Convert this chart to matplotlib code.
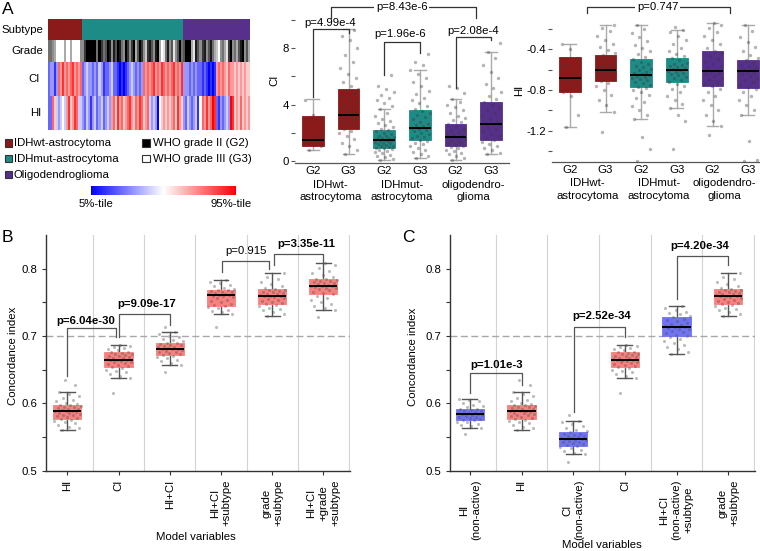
import numpy as np
import matplotlib
matplotlib.use('Agg')
import matplotlib.pyplot as plt
from matplotlib.colors import LinearSegmentedColormap, ListedColormap
from matplotlib.patches import Rectangle
import matplotlib.colorbar as mcolorbar

plt.rcParams['font.family'] = ['Liberation Sans', 'DejaVu Sans']
plt.rcParams['axes.unicode_minus'] = False
FS = 8.2

# ---------------- DATA ----------------
# Heatmap (panel A): per-column levels
subtype_names = ['IDHwt-astrocytoma', 'IDHmut-astrocytoma', 'Oligodendroglioma']
subtype_colors = ['#8B1A1A', '#1E8C86', '#56308A']
grade_wt = [4, 4, 5, 6, 9, 9, 9, 9, 6, 9, 9, 6, 9, 9, 9, 9, 5]
grade_mut = [5, 2, 0, 0, 0, 0, 0, 4, 0, 2, 4, 3, 0, 1, 5, 1, 3, 0, 1, 4, 5, 0, 2, 5, 2, 0, 6, 3, 0, 2, 5, 7, 2,
             1, 3, 5, 1, 0, 6, 9, 8, 4, 1, 5, 3, 8, 5, 3, 0, 4]
grade_oli = [3, 0, 0, 0, 6, 8, 1, 3, 5, 2, 1, 5, 3, 1, 4, 6, 7, 9, 5, 4, 6, 8, 2, 0, 5, 4, 6, 3, 1, 0, 5, 3, 6]
ci_wt = [2, 3, 3, 1, 3, 8, 7, 9, 7, 8, 7, 8, 9, 7, 8, 7, 8]
ci_mut = [2, 3, 4, 3, 3, 2, 3, 2, 4, 3, 1, 2, 2, 3, 4, 2, 2, 1, 0, 1, 0, 1, 2, 3, 4, 3, 2, 3, 2, 3, 8, 7, 8,
          7, 8, 9, 7, 8, 7, 9, 8, 7, 8, 7, 8, 9, 7, 8, 7, 9]
ci_oli = [3, 3, 3, 2, 3, 2, 3, 2, 2, 1, 2, 1, 0, 1, 0, 1, 7, 8, 7, 8, 7, 6, 8, 7, 7, 6, 7, 6, 7, 6, 7, 6, 6]
hi_wt = [2, 2, 8, 6, 4, 3, 4, 5, 4, 7, 9, 6, 7, 9, 8, 4, 4]
hi_mut = [3, 2, 4, 3, 1, 3, 4, 2, 3, 4, 2, 3, 4, 3, 7, 8, 6, 9, 7, 8, 6, 7, 8, 9, 7, 6, 8, 7, 9, 8, 6, 7, 8,
          4, 3, 4, 3, 0, 5, 6, 7, 6, 7, 6, 7, 8, 6, 9, 7, 6]
hi_oli = [3, 2, 4, 3, 2, 3, 4, 1, 5, 8, 7, 9, 7, 8, 10, 9, 2, 1, 3, 2, 3, 4, 3, 10, 9, 6, 7, 6, 8, 6, 7, 6, 7]

# Panel A middle: CI by subtype/grade
grp_ticks = ['G2', 'G3', 'G2', 'G3', 'G2', 'G3']
grp_names = ['IDHwt-\nastrocytoma', 'IDHmut-\nastrocytoma', 'oligodendro-\nglioma']
ci_q1 = [1.09, 2.24, 0.90, 1.49, 1.07, 1.49]
ci_med = [1.50, 3.26, 1.49, 2.32, 1.68, 2.60]
ci_q3 = [3.16, 5.12, 2.20, 3.62, 2.60, 4.21]
ci_lo = [0.79, 0.48, 0.05, 0.19, 0.10, 0.50]
ci_hi = [4.40, 9.35, 3.67, 6.46, 4.38, 7.76]
ci_pts_wt_g2 = [0.79, 1.05, 1.12, 1.25, 1.38, 1.45, 1.52, 1.60, 2.95, 3.10, 3.30, 4.35]
ci_pts_wt_g3 = [0.48, 0.75, 1.1, 1.3, 1.55, 1.8, 2.0, 2.15, 2.3, 2.45, 2.6, 2.75, 2.9, 3.0, 3.1, 3.2, 3.3,
                3.4, 3.55, 3.7, 3.85, 4.0, 4.2, 4.4, 4.6, 4.8, 5.0, 5.1, 5.3, 5.6, 5.9, 6.2, 6.6, 7.0, 7.5,
                8.0, 8.6, 8.9, 9.3]
ci_pts_mut_g2 = [0.05, 0.15, 0.25, 0.35, 0.45, 0.55, 0.62, 0.7, 0.78, 0.85, 0.9, 0.95, 1.0, 1.05, 1.1,
                 1.15, 1.2, 1.25, 1.3, 1.35, 1.4, 1.45, 1.5, 1.5, 1.55, 1.6, 1.65, 1.7, 1.75, 1.8, 1.9, 2.0,
                 2.1, 2.2, 2.3, 2.4, 2.55, 2.7, 2.85, 3.0, 3.2, 3.4, 3.67, 3.9, 4.1, 4.3, 4.5, 4.7, 4.9,
                 5.1, 5.3, 6.1]
ci_pts_mut_g3 = [0.19, 0.35, 0.5, 0.65, 0.8, 0.95, 1.1, 1.2, 1.3, 1.4, 1.5, 1.6, 1.7, 1.8, 1.9, 2.0, 2.1,
                 2.2, 2.3, 2.35, 2.45, 2.55, 2.65, 2.8, 2.95, 3.1, 3.25, 3.4, 3.55, 3.7, 3.9, 4.1, 4.3, 4.5,
                 4.75, 5.0, 5.3, 5.6, 5.9, 6.2, 6.46, 6.8, 7.0, 7.6]
ci_pts_oli_g2 = [0.1, 0.2, 0.35, 0.5, 0.6, 0.7, 0.8, 0.9, 1.0, 1.07, 1.15, 1.25, 1.35, 1.45, 1.55, 1.6,
                 1.68, 1.75, 1.85, 1.95, 2.05, 2.15, 2.3, 2.45, 2.6, 2.75, 2.9, 3.05, 3.2, 3.4, 3.6, 3.8,
                 4.0, 4.2, 4.38, 4.8, 5.2, 5.3]
ci_pts_oli_g3 = [0.5, 0.6, 0.75, 0.9, 1.05, 1.2, 1.35, 1.49, 1.65, 1.8, 1.95, 2.1, 2.25, 2.4, 2.55, 2.6,
                 2.7, 2.85, 3.0, 3.2, 3.4, 3.6, 3.8, 4.0, 4.21, 4.4, 4.6, 4.9, 5.2, 5.5, 5.9, 6.3, 6.8,
                 7.3, 7.76, 8.4]

# Panel A right: HI by subtype/grade
hi_q1 = [-0.823, -0.708, -0.774, -0.718, -0.757, -0.783]
hi_med = [-0.685, -0.606, -0.656, -0.600, -0.616, -0.613]
hi_q3 = [-0.479, -0.456, -0.498, -0.488, -0.416, -0.508]
hi_lo = [-1.167, -1.013, -1.088, -0.980, -1.154, -1.049]
hi_hi = [-0.350, -0.161, -0.160, -0.210, -0.138, -0.160]
hi_pts_wt_g2 = [-1.167, -1.05, -0.86, -0.82, -0.75, -0.70, -0.68, -0.64, -0.55, -0.49, -0.40, -0.35]
hi_pts_wt_g3 = [-1.216, -1.013, -0.95, -0.90, -0.85, -0.80, -0.76, -0.73, -0.71, -0.69, -0.67, -0.65,
                -0.64, -0.63, -0.62, -0.61, -0.60, -0.59, -0.58, -0.57, -0.56, -0.55, -0.53, -0.51,
                -0.49, -0.47, -0.46, -0.44, -0.41, -0.38, -0.35, -0.31, -0.27, -0.22, -0.19, -0.161]
hi_pts_mut_g2 = [-1.50, -1.38, -1.26, -1.088, -1.05, -1.0, -0.96, -0.92, -0.88, -0.85, -0.82, -0.80,
                 -0.78, -0.77, -0.75, -0.73, -0.72, -0.70, -0.69, -0.68, -0.67, -0.66, -0.65, -0.64,
                 -0.63, -0.62, -0.60, -0.59, -0.57, -0.56, -0.54, -0.52, -0.50, -0.48, -0.45, -0.42,
                 -0.39, -0.36, -0.32, -0.28, -0.24, -0.20, -0.16]
hi_pts_mut_g3 = [-1.38, -1.10, -1.05, -0.98, -0.94, -0.90, -0.86, -0.82, -0.79, -0.76, -0.74, -0.72,
                 -0.70, -0.68, -0.67, -0.65, -0.64, -0.63, -0.62, -0.61, -0.60, -0.59, -0.58, -0.57,
                 -0.56, -0.55, -0.54, -0.53, -0.51, -0.49, -0.47, -0.45, -0.42, -0.39, -0.35, -0.31,
                 -0.27, -0.23, -0.21, -0.18]
hi_pts_oli_g2 = [-1.24, -1.154, -1.10, -1.05, -1.0, -0.95, -0.90, -0.86, -0.82, -0.79, -0.76, -0.74,
                 -0.72, -0.70, -0.68, -0.66, -0.64, -0.63, -0.62, -0.61, -0.60, -0.58, -0.56, -0.54,
                 -0.52, -0.50, -0.47, -0.44, -0.42, -0.39, -0.35, -0.31, -0.27, -0.23, -0.19, -0.16,
                 -0.138]
hi_pts_oli_g3 = [-1.50, -1.49, -1.30, -1.049, -1.0, -0.95, -0.90, -0.86, -0.82, -0.79, -0.77, -0.75,
                 -0.72, -0.70, -0.68, -0.66, -0.64, -0.63, -0.62, -0.61, -0.60, -0.59, -0.58, -0.56,
                 -0.55, -0.53, -0.51, -0.49, -0.46, -0.42, -0.38, -0.33, -0.28, -0.22, -0.16]

# Panel B: concordance index per model
b_labels = ['HI', 'CI', 'HI+CI', 'HI+CI\n+subtype', 'grade\n+subtype', 'HI+CI\n+grade\n+subtype']
b_q1 = [0.577, 0.654, 0.672, 0.744, 0.748, 0.762]
b_med = [0.588, 0.665, 0.681, 0.761, 0.760, 0.775]
b_q3 = [0.598, 0.676, 0.689, 0.769, 0.770, 0.785]
b_lo = [0.561, 0.637, 0.657, 0.733, 0.729, 0.739]
b_hi = [0.617, 0.687, 0.706, 0.783, 0.794, 0.809]
pts_HI = [0.561, 0.564, 0.565, 0.568, 0.571, 0.572, 0.574, 0.576, 0.577, 0.578, 0.579, 0.581, 0.582,
          0.583, 0.584, 0.585, 0.586, 0.587, 0.588, 0.588, 0.589, 0.590, 0.591, 0.591, 0.593, 0.594,
          0.595, 0.596, 0.597, 0.598, 0.599, 0.601, 0.603, 0.605, 0.608, 0.611, 0.614, 0.617, 0.628, 0.634]
pts_CI = [0.616, 0.637, 0.640, 0.643, 0.646, 0.648, 0.650, 0.652, 0.654, 0.655, 0.657, 0.658, 0.660,
          0.661, 0.662, 0.663, 0.664, 0.665, 0.665, 0.666, 0.667, 0.668, 0.669, 0.670, 0.671, 0.672,
          0.673, 0.674, 0.675, 0.676, 0.677, 0.679, 0.680, 0.682, 0.684, 0.685, 0.687]
pts_HICI = [0.647, 0.657, 0.660, 0.663, 0.665, 0.667, 0.669, 0.671, 0.672, 0.673, 0.675, 0.676, 0.677,
            0.678, 0.679, 0.680, 0.681, 0.681, 0.682, 0.683, 0.684, 0.685, 0.686, 0.687, 0.688, 0.689,
            0.690, 0.692, 0.694, 0.696, 0.698, 0.700, 0.703, 0.706, 0.714]
pts_HICI_sub = [0.713, 0.733, 0.735, 0.737, 0.739, 0.741, 0.743, 0.744, 0.746, 0.748, 0.750, 0.752,
                0.754, 0.756, 0.758, 0.759, 0.760, 0.761, 0.761, 0.762, 0.763, 0.764, 0.765, 0.766,
                0.767, 0.768, 0.769, 0.770, 0.772, 0.774, 0.776, 0.778, 0.780, 0.783]
pts_grade_sub = [0.729, 0.732, 0.735, 0.738, 0.740, 0.742, 0.744, 0.746, 0.748, 0.749, 0.751, 0.752,
                 0.754, 0.755, 0.757, 0.758, 0.759, 0.760, 0.760, 0.761, 0.762, 0.763, 0.764, 0.765,
                 0.766, 0.767, 0.768, 0.769, 0.770, 0.772, 0.774, 0.777, 0.780, 0.784, 0.788, 0.794]
pts_HICI_grade_sub = [0.728, 0.739, 0.742, 0.745, 0.748, 0.751, 0.754, 0.757, 0.760, 0.762, 0.764,
                      0.766, 0.768, 0.770, 0.771, 0.772, 0.773, 0.774, 0.775, 0.775, 0.776, 0.777,
                      0.778, 0.779, 0.780, 0.781, 0.782, 0.783, 0.784, 0.785, 0.787, 0.790, 0.793,
                      0.797, 0.801, 0.805, 0.809]

# Panel C: non-active vs active
c_labels = ['HI\n(non-active)', 'HI', 'CI\n(non-active)', 'CI', 'HI+CI\n(non-active)\n+subtype',
            'grade\n+subtype']
c_q1 = [0.575, 0.577, 0.537, 0.654, 0.700, 0.748]
c_med = [0.584, 0.588, 0.547, 0.665, 0.713, 0.760]
c_q3 = [0.591, 0.598, 0.557, 0.676, 0.728, 0.770]
c_lo = [0.564, 0.561, 0.525, 0.637, 0.674, 0.729]
c_hi = [0.607, 0.617, 0.574, 0.687, 0.744, 0.794]
pts_HI_na = [0.554, 0.564, 0.566, 0.568, 0.570, 0.572, 0.573, 0.575, 0.576, 0.577, 0.578, 0.579,
             0.580, 0.581, 0.582, 0.583, 0.584, 0.584, 0.585, 0.586, 0.587, 0.588, 0.589, 0.590,
             0.591, 0.592, 0.594, 0.596, 0.598, 0.600, 0.603, 0.605, 0.607]
pts_CI_na = [0.513, 0.525, 0.527, 0.529, 0.531, 0.533, 0.535, 0.537, 0.538, 0.540, 0.541, 0.542,
             0.543, 0.544, 0.545, 0.546, 0.547, 0.547, 0.548, 0.549, 0.550, 0.551, 0.552, 0.553,
             0.554, 0.555, 0.557, 0.559, 0.561, 0.563, 0.566, 0.569, 0.572, 0.574, 0.583]
pts_HICI_na_sub = [0.674, 0.677, 0.680, 0.683, 0.686, 0.689, 0.692, 0.695, 0.698, 0.700, 0.702,
                   0.704, 0.706, 0.708, 0.710, 0.711, 0.712, 0.713, 0.714, 0.715, 0.716, 0.718,
                   0.720, 0.722, 0.724, 0.726, 0.728, 0.730, 0.732, 0.734, 0.736, 0.738, 0.741, 0.744]

# ---------------- FIGURE ----------------
W, H = 760, 551
fig = plt.figure(figsize=(7.6, 5.51), dpi=100)


def add_ax(x0, y0, x1, y1):
    return fig.add_axes([x0 / W, 1 - y1 / H, (x1 - x0) / W, (y1 - y0) / H])


def ftext(x, y, s, **kw):
    kw.setdefault('fontsize', FS)
    return fig.text(x / W, 1 - y / H, s, **kw)


def frect(x0, y0, x1, y1, fc, ec='#333333'):
    fig.add_artist(Rectangle((x0 / W, 1 - y1 / H), (x1 - x0) / W, (y1 - y0) / H,
                             transform=fig.transFigure, facecolor=fc, edgecolor=ec, lw=0.8))


def jitter(n, w):
    k = np.arange(n)
    return ((k * 0.6180339887 + 0.31) % 1.0 - 0.5) * 2 * w


bwr = LinearSegmentedColormap.from_list('bwr2', ['#0000FF', '#FFFFFF', '#FF0000'])

# ---- Panel A heatmap ----
hm = add_ax(47.7, 19, 249, 130)
grade = grade_wt + grade_mut + grade_oli
ci_row = ci_wt + ci_mut + ci_oli
hi_row = hi_wt + hi_mut + hi_oli
n = len(grade)
sub_idx = np.repeat([0, 1, 2], [len(grade_wt), len(grade_mut), len(grade_oli)])
hm.imshow(sub_idx[None, :], cmap=ListedColormap(subtype_colors), vmin=0, vmax=2,
          extent=(0, n, 21, 0), aspect='auto', interpolation='nearest')
hm.imshow(np.array(grade)[None, :], cmap='gray', vmin=0, vmax=9,
          extent=(0, n, 43, 21), aspect='auto', interpolation='nearest')
hm.imshow(np.array(ci_row)[None, :], cmap=bwr, vmin=0, vmax=10,
          extent=(0, n, 77, 43), aspect='auto', interpolation='nearest')
hm.imshow(np.array(hi_row)[None, :], cmap=bwr, vmin=0, vmax=10,
          extent=(0, n, 111, 77), aspect='auto', interpolation='nearest')
hm.set_xlim(0, n)
hm.set_ylim(111, 0)
hm.axis('off')
ftext(43, 30, 'Subtype', ha='right', va='center')
ftext(43, 51, 'Grade', ha='right', va='center')
ftext(40, 79, 'CI', ha='right', va='center')
ftext(41, 113, 'HI', ha='right', va='center')

# legends
leg_y = [143, 158.5, 174.5]
for yy, c, name in zip(leg_y, subtype_colors, subtype_names):
    frect(5, yy - 3.8, 12.3, yy + 3.8, c)
    ftext(14, yy, name, ha='left', va='center')
frect(141.7, 139.2, 149.5, 146.8, '#000000')
ftext(153, 143, 'WHO grade II (G2)', ha='left', va='center')
frect(141.7, 154.7, 149.5, 162.3, '#FFFFFF')
ftext(153, 158.5, 'WHO grade III (G3)', ha='left', va='center')

cax = add_ax(91, 186, 236, 195)
cb = mcolorbar.ColorbarBase(cax, cmap=bwr, orientation='horizontal')
cb.outline.set_visible(False)
cax.set_xticks([])
ftext(96, 204, '5%-tile', ha='center', va='center')
ftext(230.7, 204, '95%-tile', ha='center', va='center')

ftext(2, 9, 'A', fontsize=12.5, ha='left', va='center')
ftext(1.5, 237.5, 'B', fontsize=12.5, ha='left', va='center')
ftext(402.5, 237.5, 'C', fontsize=12.5, ha='left', va='center')


def mkstats(q1, med, q3, lo, hi):
    return [dict(q1=a, med=b, q3=c, whislo=d, whishi=e, fliers=[])
            for a, b, c, d, e in zip(q1, med, q3, lo, hi)]


def draw_boxes(ax, stats, colors, pts, width, capw, wcol, pcol, palpha, psize, jw):
    bp = ax.bxp(stats, positions=range(len(stats)), widths=width, patch_artist=True,
                showfliers=False, capwidths=capw,
                medianprops=dict(color='black', lw=1.4, zorder=5),
                whiskerprops=dict(color=wcol, lw=1.0, zorder=1),
                capprops=dict(color=wcol, lw=1.0, zorder=1),
                boxprops=dict(lw=0.6, zorder=2))
    for patch, c in zip(bp['boxes'], colors):
        patch.set_facecolor(c)
        patch.set_edgecolor(c)
    for i, vals in enumerate(pts):
        ax.scatter(i + jitter(len(vals), jw), vals, s=psize, c=pcol, alpha=palpha,
                   linewidths=0, zorder=4)


def bracket(ax, x0, x1, y, e0, e1, label, tx, ty, bold=False, inline=False, color='#333333'):
    ax.plot([x0, x0, x1, x1], [e0, y, y, e1], color=color, lw=0.9, clip_on=False, zorder=6)
    kw = dict(ha='center', va='center', fontsize=FS, clip_on=False, zorder=7,
              fontweight='bold' if bold else 'normal')
    if inline:
        kw['bbox'] = dict(facecolor='white', edgecolor='none', pad=1.0)
    ax.text(tx, ty, label, **kw)


def style_top(ax, major, minor, labels, name_x):
    for s in ['left', 'top', 'right']:
        ax.spines[s].set_visible(False)
    ax.spines['bottom'].set_color('#555555')
    ax.spines['bottom'].set_linewidth(0.9)
    ax.set_yticks(major)
    ax.set_yticklabels(labels)
    ax.set_yticks(minor, minor=True)
    ax.tick_params(axis='y', which='both', length=3, width=0.8, color='#555555', labelsize=FS, pad=1.5)
    ax.set_xticks(range(6))
    ax.set_xticklabels(grp_ticks)
    ax.tick_params(axis='x', length=0, labelsize=FS, pad=2.5)
    for xc, name in zip(name_x, grp_names):
        ax.annotate(name, xy=(xc, 0), xycoords=('data', 'axes fraction'),
                    xytext=(0, -16.5 * 0.72), textcoords='offset points', ha='center', va='top',
                    fontsize=FS, linespacing=1.35, annotation_clip=False)


top_colors = [subtype_colors[0]] * 2 + [subtype_colors[1]] * 2 + [subtype_colors[2]] * 2

# ---- Panel A middle (CI) ----
axm = add_ax(295, 11, 509, 163)
draw_boxes(axm, mkstats(ci_q1, ci_med, ci_q3, ci_lo, ci_hi), top_colors,
           [ci_pts_wt_g2, ci_pts_wt_g3, ci_pts_mut_g2, ci_pts_mut_g3, ci_pts_oli_g2, ci_pts_oli_g3],
           0.61, 0.33, '#AAAAAA', '#3A3A3A', 0.38, 6, 0.28)
axm.set_xlim(-0.5, 5.5)
axm.set_ylim(-0.142, 10.65)
style_top(axm, [0, 4, 8], [2, 6, 10], ['0', '4', '8'], [0.5, 2.5, 4.5])
axm.set_ylabel('CI', fontsize=FS, va='center')
axm.yaxis.set_label_coords((274.5 - 295) / 214, (163 - 80) / 152)
bracket(axm, 0.51, 4.57, 10.94, 10.16, 10.16, 'p=8.43e-6', 2.49, 10.94, inline=True)
bracket(axm, 0, 1, 9.375, 4.55, 9.09, 'p=4.99e-4', 0.47, 9.80)
bracket(axm, 2, 3, 8.47, 6.11, 7.67, 'p=1.96e-6', 2.46, 9.02)
bracket(axm, 4, 5, 8.78, 5.18, 8.59, 'p=2.08e-4', 4.5, 9.23)

# ---- Panel A right (HI) ----
axr = add_ax(552, 13, 766, 161.7)
draw_boxes(axr, mkstats(hi_q1, hi_med, hi_q3, hi_lo, hi_hi), top_colors,
           [hi_pts_wt_g2, hi_pts_wt_g3, hi_pts_mut_g2, hi_pts_mut_g3, hi_pts_oli_g2, hi_pts_oli_g3],
           0.61, 0.33, '#AAAAAA', '#3A3A3A', 0.38, 6, 0.28)
axr.set_xlim(-0.5, 5.5)
axr.set_ylim(-1.505, -0.043)
style_top(axr, [-0.4, -0.8, -1.2], [-0.2, -0.6, -1.0, -1.4], ['-0.4', '-0.8', '-1.2'],
          [0.5, 2.5, 4.32])
axr.set_ylabel('HI', fontsize=FS, va='center')
axr.yaxis.set_label_coords((519.5 - 552) / 214, (161.7 - 90) / 148.7)
bracket(axr, 0.47, 4.48, 0.019, -0.046, -0.046, 'p=0.747', 2.46, 0.019, inline=True)

# ---- Panels B and C ----
RED = '#F8817E'
BLUE = '#7073F2'


def style_bottom(ax, labels, xl, yl):
    for s in ['top', 'right']:
        ax.spines[s].set_visible(False)
    for s in ['left', 'bottom']:
        ax.spines[s].set_color('#333333')
        ax.spines[s].set_linewidth(1.0)
    for xg in np.arange(0.5, 6, 1.0):
        ax.axvline(xg, color='#D3D3D3', lw=0.8, zorder=0)
    ax.axhline(0.7, color='#A8A8A8', lw=1.0, ls=(0, (5, 2.5)), zorder=1)
    ax.set_ylim(0.5, 0.85)
    ax.set_yticks([0.5, 0.6, 0.7, 0.8])
    ax.set_yticklabels(['0.5', '0.6', '0.7', '0.8'])
    ax.set_yticks([0.55, 0.65, 0.75], minor=True)
    ax.tick_params(axis='y', which='both', length=3, width=0.8, color='#333333', labelsize=FS, pad=3)
    ax.set_xticks(range(6))
    ax.set_xticklabels(labels, rotation=90, ha='center', va='top', multialignment='center',
                       linespacing=1.25)
    ax.tick_params(axis='x', length=3, width=0.8, color='#333333', labelsize=FS, pad=3.5)
    ax.set_ylabel('Concordance index', fontsize=FS, va='center')
    ax.yaxis.set_label_coords(*yl)
    ax.set_xlabel('Model variables', fontsize=FS, va='center')
    ax.xaxis.set_label_coords(*xl)


axb = add_ax(46, 235, 350, 470.7)
draw_boxes(axb, mkstats(b_q1, b_med, b_q3, b_lo, b_hi), [RED] * 6,
           [pts_HI, pts_CI, pts_HICI, pts_HICI_sub, pts_grade_sub, pts_HICI_grade_sub],
           0.55, 0.29, '#555555', '#505050', 0.38, 5, 0.26)
axb.set_xlim(-0.416, 5.52)
style_bottom(axb, b_labels, ((196 - 46) / 304, -(537.3 - 470.7) / 235.7),
             ((12.7 - 46) / 304, (470.7 - 356) / 235.7))
bracket(axb, 0, 0.95, 0.7126, 0.6404, 0.6978, 'p=6.04e-30', 0.36, 0.7224, bold=True, color='#555555')
bracket(axb, 1.0, 2.0, 0.7333, 0.6978, 0.716, 'p=9.09e-17', 1.55, 0.748, bold=True, color='#555555')
bracket(axb, 3.015, 3.945, 0.8113, 0.795, 0.800, 'p=0.915', 3.48, 0.826, color='#555555')
bracket(axb, 4.037, 5.0, 0.8212, 0.805, 0.8098, 'p=3.35e-11', 4.66, 0.836, bold=True, color='#555555')

axc = add_ax(450, 235, 755, 470.7)
draw_boxes(axc, mkstats(c_q1, c_med, c_q3, c_lo, c_hi), [BLUE, RED, BLUE, RED, BLUE, RED],
           [pts_HI_na, pts_HI, pts_CI_na, pts_CI, pts_HICI_na_sub, pts_grade_sub],
           0.55, 0.29, '#555555', '#505050', 0.38, 5, 0.26)
axc.set_xlim(-0.387, 5.52)
style_bottom(axc, c_labels, ((601.7 - 450) / 305, -(545 - 470.7) / 235.7),
             ((413.3 - 450) / 305, (470.7 - 356.7) / 235.7))
bracket(axc, 0.01, 1.01, 0.6457, 0.615, 0.627, 'p=1.01e-3', 0.517, 0.657, bold=True, color='#555555')
bracket(axc, 2.01, 3.01, 0.714, 0.5877, 0.698, 'p=2.52e-34', 2.55, 0.730, bold=True, color='#555555')
bracket(axc, 4.0, 5.0, 0.8193, 0.755, 0.806, 'p=4.20e-34', 4.45, 0.834, bold=True, color='#555555')

fig.savefig('out.png', dpi=100)
